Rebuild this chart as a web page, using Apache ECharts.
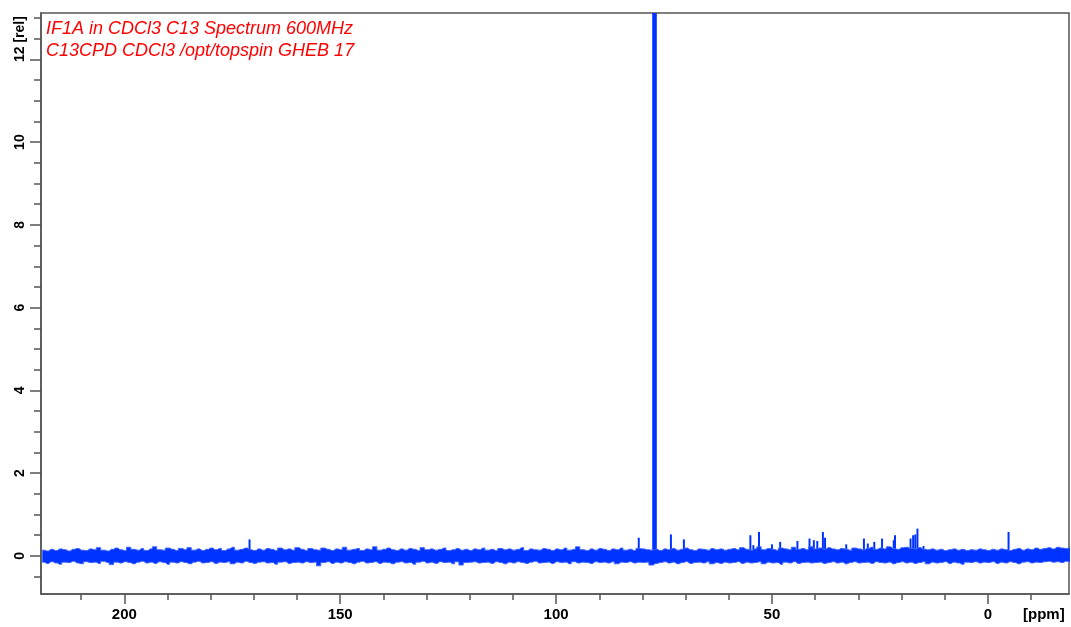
<!DOCTYPE html>
<html>
<head>
<meta charset="utf-8">
<title>C13 spectrum</title>
<script src="https://cdn.jsdelivr.net/npm/echarts@6.0.0/dist/echarts.min.js"></script>
<style>
    html, body { margin: 0; padding: 0; background: #fff; }
    #spectrum { width: 1071px; height: 627px; }
</style>
</head>
<body>
<div id="spectrum"></div>

<script>
    // baseline noise band, every 1 ppm from 219 down to -19
    var noiseFrom = 219;
    var noiseStep = 1;
    var noiseUpper = [
        0.14,0.12,0.16,0.13,0.17,0.15,0.12,0.16,0.18,0.14,0.13,0.17,0.15,0.20,0.14,0.12,0.16,0.19,0.15,0.13,
        0.21,0.16,0.14,0.18,0.13,0.17,0.22,0.15,0.14,0.19,0.16,0.13,0.18,0.15,0.20,0.14,0.17,0.13,0.16,0.19,
        0.15,0.18,0.13,0.17,0.21,0.14,0.16,0.19,0.15,0.13,0.17,0.14,0.18,0.16,0.13,0.19,0.15,0.17,0.14,0.20,
        0.16,0.13,0.18,0.15,0.14,0.19,0.16,0.13,0.17,0.15,0.21,0.14,0.16,0.18,0.13,0.17,0.15,0.22,0.14,0.16,
        0.19,0.15,0.13,0.17,0.14,0.18,0.16,0.13,0.20,0.15,0.17,0.14,0.16,0.19,0.13,0.15,0.18,0.14,0.16,0.13,
        0.17,0.15,0.19,0.14,0.16,0.13,0.18,0.15,0.17,0.14,0.16,0.20,0.13,0.17,0.15,0.14,0.18,0.16,0.13,0.17,
        0.15,0.19,0.14,0.16,0.22,0.15,0.13,0.17,0.14,0.18,0.16,0.13,0.17,0.15,0.19,0.14,0.16,0.13,0.18,0.17,
        0.15,0.14,0.16,0.13,0.17,0.15,0.18,0.14,0.16,0.19,0.15,0.13,0.17,0.16,0.14,0.18,0.15,0.17,0.14,0.16,
        0.18,0.15,0.20,0.16,0.14,0.17,0.22,0.15,0.18,0.16,0.14,0.19,0.17,0.15,0.21,0.16,0.18,0.15,0.22,0.17,
        0.19,0.16,0.20,0.17,0.15,0.18,0.16,0.14,0.19,0.17,0.15,0.18,0.21,0.16,0.19,0.17,0.22,0.18,0.16,0.20,
        0.21,0.18,0.17,0.20,0.16,0.15,0.17,0.14,0.16,0.13,0.15,0.17,0.14,0.16,0.13,0.15,0.14,0.17,0.15,0.13,
        0.16,0.14,0.17,0.15,0.13,0.16,0.18,0.14,0.17,0.15,0.19,0.16,0.18,0.20,0.17,0.21,0.19,0.18,0.20
    ];
    var noiseLower = [
        -0.15,-0.18,-0.14,-0.17,-0.20,-0.15,-0.16,-0.13,-0.17,-0.19,-0.14,-0.16,-0.15,-0.18,-0.13,-0.16,-0.21,-0.15,-0.17,-0.14,
        -0.16,-0.19,-0.15,-0.13,-0.17,-0.15,-0.18,-0.14,-0.16,-0.20,-0.15,-0.17,-0.14,-0.16,-0.19,-0.15,-0.13,-0.17,-0.16,-0.14,
        -0.18,-0.15,-0.16,-0.14,-0.19,-0.15,-0.17,-0.13,-0.16,-0.18,-0.15,-0.14,-0.17,-0.16,-0.20,-0.15,-0.14,-0.18,-0.16,-0.15,
        -0.17,-0.14,-0.16,-0.15,-0.24,-0.16,-0.14,-0.18,-0.15,-0.17,-0.14,-0.16,-0.19,-0.15,-0.13,-0.17,-0.16,-0.14,-0.18,-0.15,
        -0.16,-0.19,-0.15,-0.14,-0.17,-0.16,-0.20,-0.15,-0.13,-0.17,-0.15,-0.18,-0.14,-0.16,-0.15,-0.19,-0.14,-0.22,-0.16,-0.15,
        -0.14,-0.17,-0.16,-0.15,-0.18,-0.14,-0.16,-0.19,-0.15,-0.17,-0.14,-0.16,-0.18,-0.15,-0.13,-0.17,-0.16,-0.15,-0.18,-0.14,
        -0.16,-0.15,-0.19,-0.14,-0.17,-0.15,-0.16,-0.18,-0.14,-0.16,-0.15,-0.17,-0.14,-0.19,-0.15,-0.16,-0.14,-0.17,-0.15,-0.16,
        -0.15,-0.22,-0.18,-0.16,-0.14,-0.17,-0.15,-0.19,-0.16,-0.14,-0.18,-0.16,-0.15,-0.17,-0.14,-0.19,-0.16,-0.18,-0.15,-0.17,
        -0.16,-0.14,-0.18,-0.15,-0.17,-0.16,-0.14,-0.19,-0.15,-0.17,-0.16,-0.20,-0.15,-0.17,-0.14,-0.18,-0.16,-0.15,-0.17,-0.16,
        -0.15,-0.18,-0.16,-0.14,-0.17,-0.15,-0.19,-0.16,-0.14,-0.17,-0.16,-0.15,-0.18,-0.14,-0.16,-0.17,-0.15,-0.19,-0.16,-0.14,
        -0.17,-0.15,-0.18,-0.16,-0.14,-0.19,-0.15,-0.17,-0.16,-0.14,-0.18,-0.15,-0.17,-0.20,-0.15,-0.16,-0.14,-0.17,-0.15,-0.16,
        -0.14,-0.18,-0.15,-0.17,-0.14,-0.16,-0.19,-0.15,-0.14,-0.17,-0.15,-0.16,-0.14,-0.13,-0.15,-0.14,-0.16,-0.13,-0.15
    ];

    // peaks: position [ppm] and height [rel]; the CDCl3 triplet runs off the top
    var peakPpm    = [171.0, 80.85, 77.5, 77.2, 76.9, 73.4, 70.4, 55.0, 54.3, 53.0, 50.0, 48.1, 44.1, 41.3, 40.3, 39.5, 38.2, 37.7,
                      32.8, 28.7, 27.8, 26.3, 24.5, 21.8, 21.5, 17.9, 17.3, 16.8, 16.3, 14.9, -4.8];
    var peakHeight = [0.40, 0.44, 20, 20, 20, 0.52, 0.40, 0.50, 0.26, 0.58, 0.28, 0.34, 0.36, 0.42, 0.38, 0.36, 0.58, 0.44,
                      0.28, 0.42, 0.30, 0.34, 0.42, 0.38, 0.50, 0.42, 0.50, 0.52, 0.66, 0.24, 0.58];

    // axis ticks and labels
    var xTicks = [0, 50, 100, 150, 200];
    var yTicks = [0, 2, 4, 6, 8, 10, 12];
    var xMin = -18.8, xMax = 219.3;
    var yMin = -0.92, yMax = 13.12;

    var titleLines = ['IF1A in CDCl3 C13 Spectrum 600MHz', 'C13CPD CDCl3 /opt/topspin GHEB 17'];

    var blue = '#0033ff';
    var edgeBlue = '#3d63ff';
    var axisGray = '#555555';
    var fontFam = '"Liberation Sans", Arial, sans-serif';

    var upperData = noiseUpper.map(function (v, i) { return [noiseFrom - i * noiseStep, v]; });
    var lowerData = noiseLower.map(function (v, i) { return [noiseFrom - i * noiseStep, v]; });
    var peakData = peakPpm.map(function (p, i) { return [p, peakHeight[i]]; });

    var myChart = echarts.init(document.getElementById('spectrum'), null, { renderer: 'canvas' });
    var option = {
        animation: false,
        backgroundColor: '#ffffff',
        title: {
            text: titleLines.join('\n'),
            left: 46,
            top: 18,
            padding: 0,
            textStyle: {
                color: '#ff0000',
                fontStyle: 'italic',
                fontWeight: 'normal',
                fontSize: 18,
                lineHeight: 22,
                fontFamily: fontFam
            }
        },
        grid: {
            left: 41, right: 2, top: 13, bottom: 33,
            show: true,
            borderColor: axisGray,
            borderWidth: 1.5,
            backgroundColor: 'transparent'
        },
        xAxis: {
            type: 'value',
            inverse: true,
            min: xMin,
            max: xMax,
            splitNumber: 5,
            axisLine: { onZero: false, lineStyle: { color: axisGray, width: 1.5 } },
            axisTick: { show: true, length: 10, customValues: xTicks, lineStyle: { color: axisGray, width: 1.5 } },
            minorTick: { show: true, splitNumber: 5, length: 6, lineStyle: { color: axisGray, width: 1.5 } },
            splitLine: { show: false },
            axisLabel: {
                margin: 13,
                color: '#000',
                fontSize: 15,
                fontWeight: 'bold',
                fontFamily: fontFam,
                customValues: xTicks
            }
        },
        yAxis: {
            type: 'value',
            min: yMin,
            max: yMax,
            splitNumber: 7,
            axisLine: { onZero: false, lineStyle: { color: axisGray, width: 1.5 } },
            axisTick: { show: true, length: 11, customValues: yTicks, lineStyle: { color: axisGray, width: 1.5 } },
            minorTick: { show: true, splitNumber: 4, length: 7, lineStyle: { color: axisGray, width: 1.5 } },
            splitLine: { show: false },
            axisLabel: {
                rotate: 90,
                margin: 14,
                color: '#000',
                fontSize: 14,
                fontWeight: 'bold',
                fontFamily: fontFam,
                customValues: yTicks,
                // 12 is written together with the unit, further down
                formatter: function (v) { return v === 12 ? '' : String(v); }
            }
        },
        graphic: [
            {
                type: 'text',
                x: 27, y: 62,
                rotation: Math.PI / 2,
                style: {
                    text: '12 [rel]',
                    fill: '#000',
                    font: 'bold 14px ' + fontFam,
                    align: 'left',
                    verticalAlign: 'bottom'
                }
            },
            {
                type: 'text',
                x: 1023, y: 607,
                style: {
                    text: '[ppm]',
                    fill: '#000',
                    font: 'bold 15px ' + fontFam,
                    align: 'left',
                    verticalAlign: 'top'
                }
            }
        ],
        series: [
            {
                name: 'noise upper',
                type: 'line',
                data: upperData,
                step: 'middle',
                showSymbol: false,
                silent: true,
                sampling: 'none',
                lineStyle: { color: edgeBlue, width: 1 },
                areaStyle: { color: blue, opacity: 1 }
            },
            {
                name: 'noise lower',
                type: 'line',
                data: lowerData,
                step: 'middle',
                showSymbol: false,
                silent: true,
                sampling: 'none',
                lineStyle: { color: edgeBlue, width: 1 },
                areaStyle: { color: blue, opacity: 1 }
            },
            {
                name: 'peaks',
                type: 'bar',
                data: peakData,
                barWidth: 2,
                clip: true,
                silent: true,
                itemStyle: { color: blue }
            }
        ]
    };
    myChart.setOption(option);
</script>
</body>
</html>
